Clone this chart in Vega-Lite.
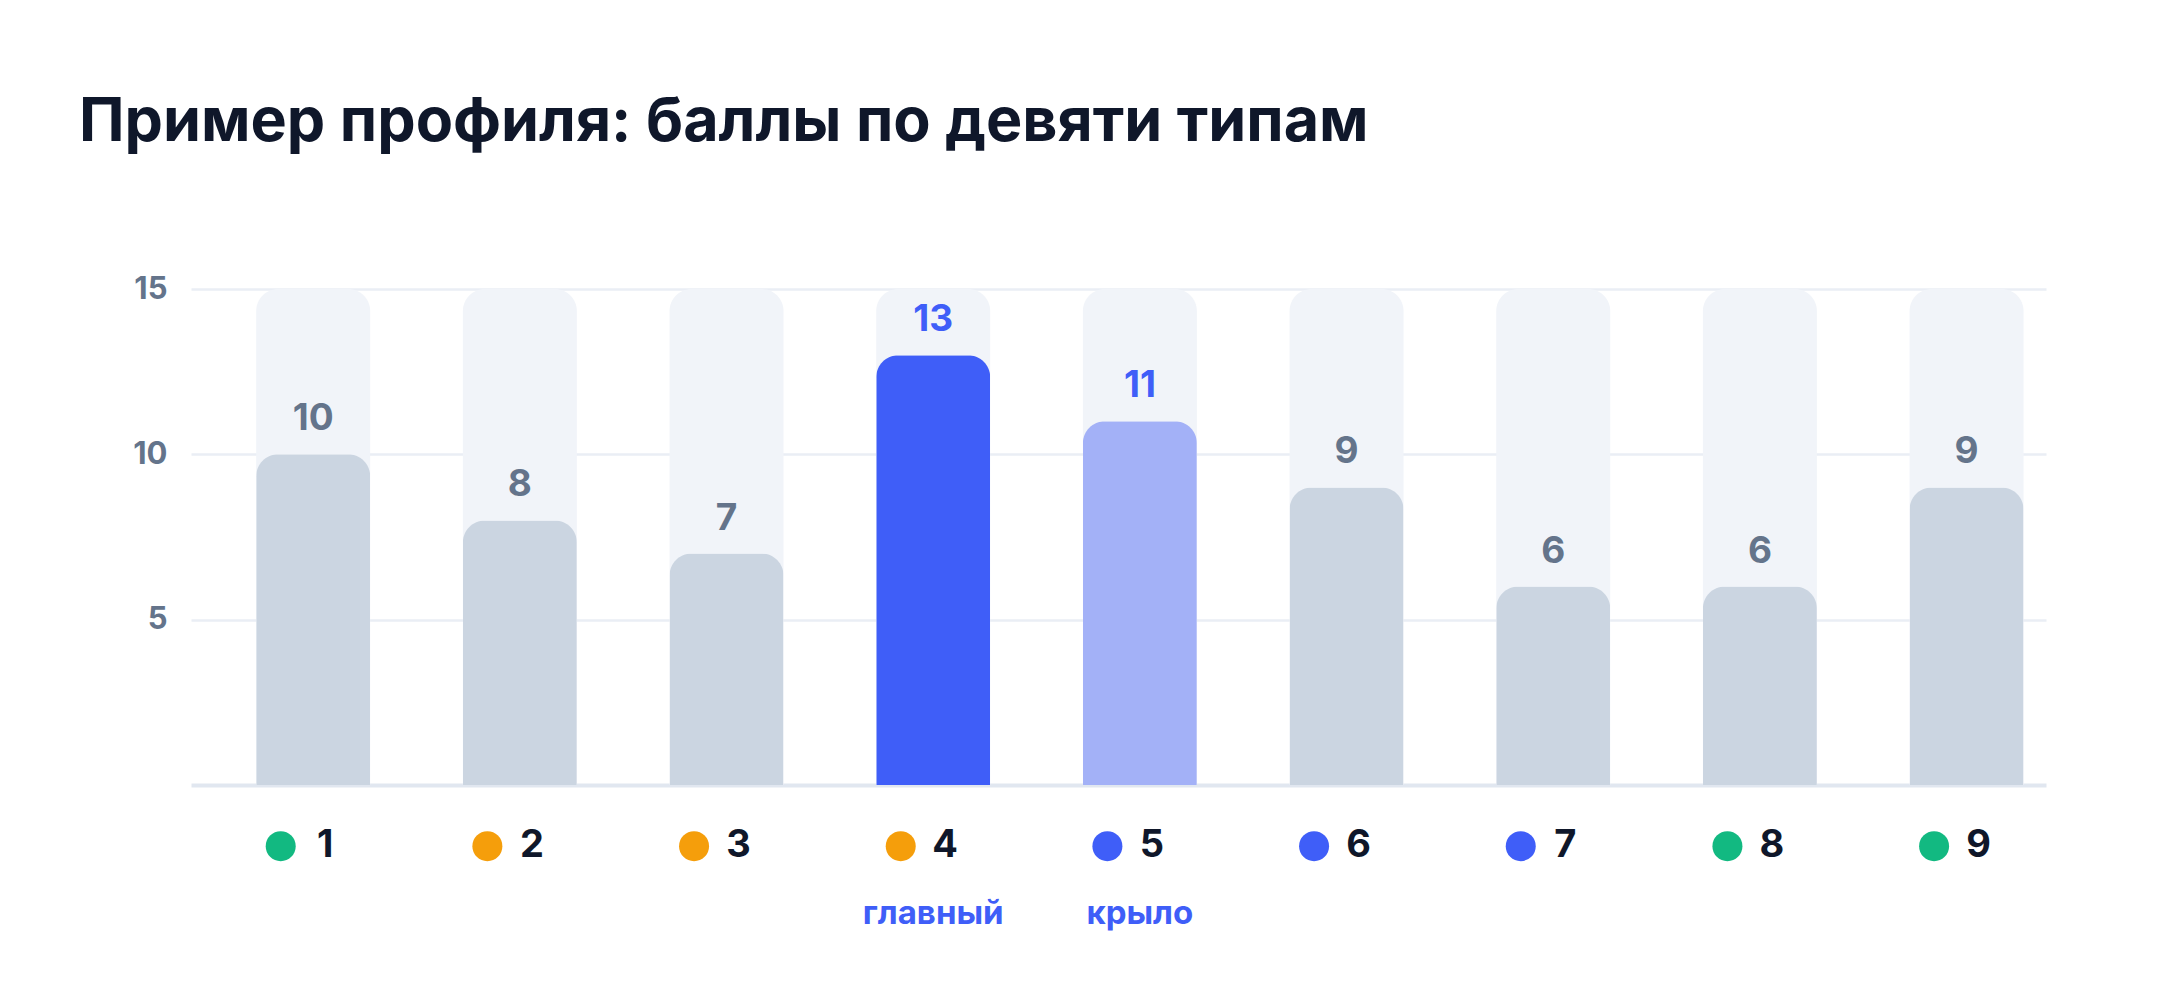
{
  "$schema": "https://vega.github.io/schema/vega-lite/v6.json",
  "autosize": {"type": "none"},
  "padding": {"left": 191, "top": 289, "right": 114, "bottom": 223},
  "width": 1855,
  "height": 496,
  "background": "#ffffff",
  "title": {
    "text": "Пример профиля: баллы по девяти типам",
    "anchor": "start",
    "frame": "group",
    "dx": -112,
    "offset": 71,
    "baseline": "alphabetic",
    "font": "Inter",
    "fontSize": 61,
    "fontWeight": 700,
    "color": "#0f172a"
  },
  "config": {
    "view": {"stroke": null},
    "font": "Inter"
  },
  "data": {
    "values": [
      {"type": "1", "score": 10, "center": "gut", "role": ""},
      {"type": "2", "score": 8, "center": "heart", "role": ""},
      {"type": "3", "score": 7, "center": "heart", "role": ""},
      {"type": "4", "score": 13, "center": "heart", "role": "главный"},
      {"type": "5", "score": 11, "center": "head", "role": "крыло"},
      {"type": "6", "score": 9, "center": "head", "role": ""},
      {"type": "7", "score": 6, "center": "head", "role": ""},
      {"type": "8", "score": 6, "center": "gut", "role": ""},
      {"type": "9", "score": 9, "center": "gut", "role": ""}
    ]
  },
  "encoding": {
    "x": {
      "field": "type",
      "type": "nominal",
      "sort": null,
      "scale": {"paddingInner": 0.4485, "paddingOuter": 0.212, "align": 0.744},
      "axis": {
        "title": null,
        "labels": false,
        "ticks": false,
        "grid": false,
        "domain": true,
        "domainColor": "#e1e7f0",
        "domainWidth": 4
      }
    }
  },
  "layer": [
    {
      "mark": {"type": "bar", "color": "#f1f4f9", "cornerRadiusTopLeft": 22, "cornerRadiusTopRight": 22},
      "encoding": {
        "y": {
          "datum": 15,
          "type": "quantitative",
          "scale": {"domain": [0, 15], "nice": false, "zero": true},
          "axis": {
            "title": null,
            "values": [5, 10, 15],
            "domain": false,
            "ticks": false,
            "grid": true,
            "gridColor": "#eaeef5",
            "gridWidth": 2.5,
            "labelFont": "Inter",
            "labelFontSize": 31,
            "labelFontWeight": 700,
            "labelColor": "#64748b",
            "labelPadding": 24
          }
        }
      }
    },
    {
      "mark": {"type": "bar", "cornerRadiusTopLeft": 22, "cornerRadiusTopRight": 22},
      "encoding": {
        "y": {"field": "score", "type": "quantitative"},
        "color": {
          "condition": [
            {"test": "datum.role === 'главный'", "value": "#3f5ef8"},
            {"test": "datum.role === 'крыло'", "value": "#a3b1f7"}
          ],
          "value": "#cbd5e1"
        }
      }
    },
    {
      "mark": {"type": "text", "baseline": "alphabetic", "dy": -24, "fontSize": 37, "fontWeight": 700, "font": "Inter"},
      "encoding": {
        "y": {"field": "score", "type": "quantitative"},
        "text": {"field": "score", "type": "quantitative"},
        "color": {
          "condition": {"test": "datum.role !== ''", "value": "#3f5ef8"},
          "value": "#64748b"
        }
      }
    },
    {
      "mark": {"type": "point", "shape": "circle", "filled": true, "size": 900, "opacity": 1},
      "encoding": {
        "x": {"field": "type", "type": "nominal", "sort": null, "bandPosition": 0.215},
        "y": {"datum": -1.85, "type": "quantitative"},
        "color": {
          "field": "center",
          "type": "nominal",
          "scale": {"domain": ["gut", "heart", "head"], "range": ["#12b981", "#f59e0b", "#3f5ef8"]},
          "legend": null
        }
      }
    },
    {
      "mark": {"type": "text", "baseline": "middle", "dx": 12, "fontSize": 38, "fontWeight": 700, "font": "Inter", "color": "#0f172a"},
      "encoding": {
        "y": {"datum": -1.85, "type": "quantitative"},
        "text": {"field": "type", "type": "nominal"}
      }
    },
    {
      "mark": {"type": "text", "baseline": "alphabetic", "fontSize": 33, "fontWeight": 700, "font": "Inter", "color": "#3f5ef8"},
      "encoding": {
        "y": {"datum": -4.2, "type": "quantitative"},
        "text": {"field": "role", "type": "nominal"}
      }
    }
  ]
}
